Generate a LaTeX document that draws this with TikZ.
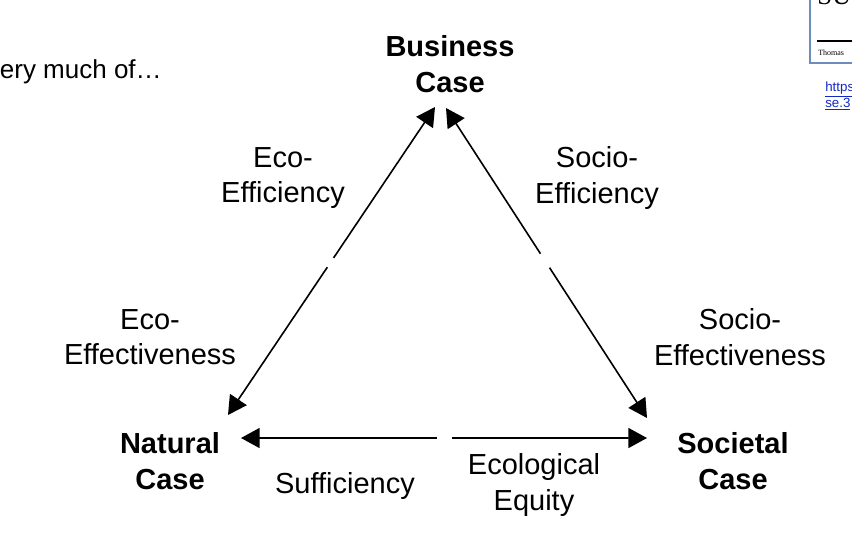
\documentclass[tikz,border=0pt]{standalone}
\usepackage{fontspec}
\setmainfont{Liberation Sans}
\newfontfamily\serifface{Liberation Serif}
\usetikzlibrary{arrows.meta,calc,positioning}
\definecolor{LinkBlue}{RGB}{20,40,200}
\definecolor{FrameBlue}{RGB}{110,140,190}

\begin{document}
\begin{tikzpicture}[x=0.75pt, y=-0.75pt, >={Triangle[length=14pt,width=15pt]},
  every node/.style={font=\fontsize{21.75}{26.5}\selectfont, inner sep=0pt, align=center},
  corner/.style={font=\fontsize{21.75}{26.5}\selectfont\bfseries},
  link/.style={->, line width=1.2pt}]
\useasboundingbox (0,0) rectangle (852,536);

% the three cases
\node[corner] (business) at (450,64) {Business\\Case};
\node[corner] (natural) at (170,461) {Natural\\Case};
\node[corner] (societal) at (733,461) {Societal\\Case};

% arrow tips beside the cases
\coordinate (bl) at (435,107);
\coordinate (br) at (446,108);
\coordinate (nt) at (228,415);
\coordinate (nr) at (241,438);
\coordinate (st) at (647,418);
\coordinate (sl) at (647,438);

\draw[link] ($(bl)!0.49!(nt)$) -- (bl);
\draw[link] ($(bl)!0.52!(nt)$) -- (nt);
\draw[link] ($(br)!0.47!(st)$) -- (br);
\draw[link] ($(br)!0.515!(st)$) -- (st);
\draw[link] ($(nr)!0.483!(sl)$) -- (nr);
\draw[link] ($(nr)!0.52!(sl)$) -- (sl);

% edge labels
\node (ecoeff) at (283,178) {Eco-\\Efficiency};
\node (socioeff) at (597,178) {Socio-\\Efficiency};
\node (ecoeffect) at (150,337) {Eco-\\Effectiveness};
\node (socioeffect) at (740,337) {Socio-\\Effectiveness};
\node (suff) at (345,486) {Sufficiency};
\node (equity) at (534,485) {Ecological\\Equity};
\node[anchor=base east, font=\fontsize{19.5}{23}\selectfont] (intro) at (162,78) {very much of…};

% book cover and link at the corner
\draw[FrameBlue, line width=1.5pt, fill=white] (810,-5) rectangle (880,63);
\node[font=\serifface\fontsize{20}{20}\selectfont, anchor=base west] (booktitle) at (817,4) {SUST};
\draw[line width=0.8pt] (817,41) -- (860,41);
\node[font=\serifface\fontsize{6}{7}\selectfont, anchor=west] (author) at (818,53) {Thomas};
\node[font=\fontsize{10}{12}\selectfont, text=LinkBlue, anchor=west, align=left] (url) at (825,96) {\underline{https}\\\underline{se.3}};
\end{tikzpicture}
\end{document}
